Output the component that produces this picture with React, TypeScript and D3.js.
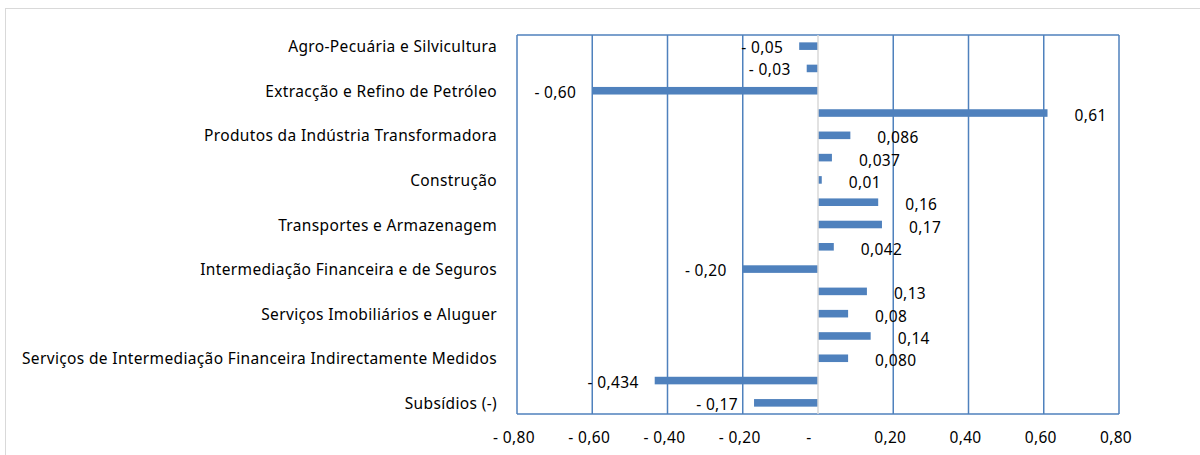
import { scaleLinear, scaleBand, range } from 'd3';

// only every other category name is printed in the original chart
const categories = [
  'Agro-Pecuária e Silvicultura',
  '',
  'Extracção e Refino de Petróleo',
  '',
  'Produtos da Indústria Transformadora',
  '',
  'Construção',
  '',
  'Transportes e Armazenagem',
  '',
  'Intermediação Financeira e de Seguros',
  '',
  'Serviços Imobiliários e Aluguer',
  '',
  'Serviços de Intermediação Financeira Indirectamente Medidos',
  '',
  'Subsídios (-)',
];
const values = [-0.05, -0.03, -0.6, 0.61, 0.086, 0.037, 0.01, 0.16, 0.17, 0.042, -0.2, 0.13, 0.08, 0.14, 0.08, -0.434, -0.17];
const valueLabels = ['- 0,05', '- 0,03', '- 0,60', '0,61', '0,086', '0,037', '0,01', '0,16', '0,17', '0,042', '- 0,20', '0,13', '0,08', '0,14', '0,080', '- 0,434', '- 0,17'];
const ticks = [-0.8, -0.6, -0.4, -0.2, 0, 0.2, 0.4, 0.6, 0.8];
const tickLabels = ['- 0,80', '- 0,60', '- 0,40', '- 0,20', '-', '0,20', '0,40', '0,60', '0,80'];

const WIDTH = 1200;
const HEIGHT = 455;
const LEFT = 517;
const RIGHT = 1119;
const TOP = 35;
const BOTTOM = 414;
const BLUE = '#4f81bd';
const FONT = "'Noto Sans', sans-serif";
const FONT_SIZE = 15.5;
const SPACING = 0.35;

export default function App() {
  const x = scaleLinear().domain([-0.8, 0.8]).range([LEFT, RIGHT]);
  const y = scaleBand<number>()
    .domain(range(values.length))
    .range([TOP, BOTTOM])
    .paddingInner(0.66)
    .paddingOuter(0.33);
  const bw = y.bandwidth();

  return (
    <>
      <style>{`body { margin: 0; }`}</style>
      <svg
        width={WIDTH}
        height={HEIGHT}
        style={{ display: 'block', fontFamily: FONT, fontSize: FONT_SIZE, letterSpacing: SPACING }}
      >
        <rect x={5.5} y={8.5} width={WIDTH} height={HEIGHT} fill="#fff" stroke="#d9d9d9" />

        {/* grid + plot frame */}
        {ticks
          .filter((t) => t !== 0)
          .map((t) => (
            <line key={t} x1={x(t)} x2={x(t)} y1={TOP} y2={BOTTOM} stroke={BLUE} strokeWidth={1.5} />
          ))}
        <line x1={LEFT} x2={RIGHT} y1={TOP} y2={TOP} stroke={BLUE} strokeWidth={1.5} />
        <line x1={LEFT} x2={RIGHT} y1={BOTTOM} y2={BOTTOM} stroke={BLUE} strokeWidth={1.5} />

        {/* bars */}
        {values.map((v, i) => (
          <rect
            key={i}
            x={Math.min(x(0), x(v))}
            y={y(i)!}
            width={Math.abs(x(v) - x(0))}
            height={bw}
            fill={BLUE}
          />
        ))}
        <line x1={x(0)} x2={x(0)} y1={TOP} y2={BOTTOM} stroke="#d9d9d9" strokeWidth={1.5} />

        {/* value labels */}
        {values.map((v, i) => (
          <text
            key={i}
            x={v < 0 ? x(v) - 16 : x(v) + 27}
            y={y(i)! + bw / 2 + (v < 0 ? 1 : 2)}
            textAnchor={v < 0 ? 'end' : 'start'}
            dominantBaseline="central"
            fill="#000"
          >
            {valueLabels[i]}
          </text>
        ))}

        {/* category labels */}
        {categories.map((c, i) =>
          c ? (
            <text
              key={i}
              x={497}
              y={y(i)! + bw / 2}
              textAnchor="end"
              dominantBaseline="central"
              fill="#000"
            >
              {c}
            </text>
          ) : null,
        )}

        {/* x axis labels */}
        {ticks.map((t, i) => (
          <text
            key={t}
            x={x(t) + (t === 0 ? -9 : -3)}
            y={437}
            textAnchor="middle"
            dominantBaseline="central"
            fill="#000"
          >
            {tickLabels[i]}
          </text>
        ))}
      </svg>
    </>
  );
}
